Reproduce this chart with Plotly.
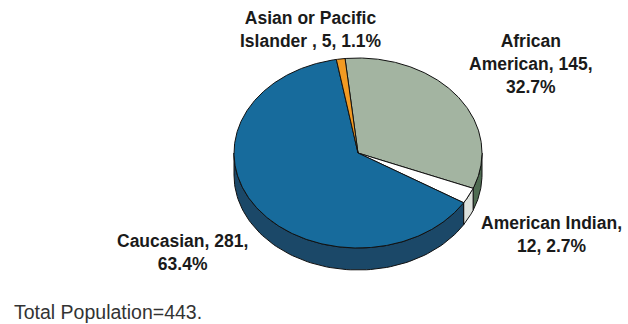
import numpy as np
import plotly.graph_objects as go

# ---- data ----
categories = ["African American", "American Indian", "Caucasian", "Asian or Pacific Islander"]
values = [145, 12, 281, 5]
label_templates = [
    "African<br>American, {v},<br>{p}%",
    "American Indian,<br>{v}, {p}%",
    "Caucasian, {v},<br>{p}%",
    "Asian or Pacific<br>Islander , {v}, {p}%",
]
footnote = "Total Population=443."

# ---- styles / layout ----
top_colors = ["#a3b4a1", "#ffffff", "#176b9c", "#f29a22"]
side_colors = ["#4f6c52", "#dde1dc", "#1b4868", "#b86e10"]
label_pos = [(531, 64), (551, 234), (182, 252), (310, 29)]

W, H = 628, 324
cx, cy, rx, ry, depth = 358, 153, 124, 95, 22
start_deg = -6.0

total = sum(values)
fracs = [v / total for v in values]
bounds = np.concatenate([[0], np.cumsum(fracs)]) * 360.0 + start_deg

def pt(t_deg, dy=0.0):
    t = np.radians(t_deg)
    return cx + rx * np.sin(t), cy - ry * np.cos(t) + dy

fig = go.Figure()

# sides (visible front part: 90..270 deg)
for i in range(len(values)):
    a, b = bounds[i], bounds[i + 1]
    for off in (0, 360, -360):
        lo, hi = max(a + off, 90), min(b + off, 270)
        if hi > lo:
            ts = np.linspace(lo, hi, 80)
            xt, yt = pt(ts)
            xb, yb = pt(ts[::-1], depth)
            xs = np.concatenate([xt, xb, [xt[0]]])
            ys = np.concatenate([yt, yb, [yt[0]]])
            fig.add_trace(go.Scatter(x=xs, y=ys, mode="lines", fill="toself",
                                     fillcolor=side_colors[i],
                                     line=dict(color="#111111", width=1),
                                     hoverinfo="skip", showlegend=False))

# top faces
for i in range(len(values)):
    a, b = bounds[i], bounds[i + 1]
    n = max(8, int((b - a) * 2))
    ts = np.linspace(a, b, n)
    xa, ya = pt(ts)
    xs = np.concatenate([[cx], xa, [cx]])
    ys = np.concatenate([[cy], ya, [cy]])
    fig.add_trace(go.Scatter(x=xs, y=ys, mode="lines", fill="toself",
                             fillcolor=top_colors[i],
                             line=dict(color="#111111", width=1),
                             hoverinfo="skip", showlegend=False,
                             name=categories[i]))

# labels
for i, tmpl in enumerate(label_templates):
    pct = f"{100 * values[i] / total:.1f}"
    fig.add_annotation(x=label_pos[i][0], y=label_pos[i][1], xref="x", yref="y",
                       text="<b>" + tmpl.format(v=values[i], p=pct).replace("<br>", "</b><br><b>") + "</b>",
                       showarrow=False, align="center",
                       font=dict(family="Liberation Sans, Arial, sans-serif", size=17.5, color="#1a1a1a"))

fig.add_annotation(x=12, y=312, xref="x", yref="y", text=footnote, showarrow=False,
                   xanchor="left", yanchor="middle",
                   font=dict(family="Liberation Sans, Arial, sans-serif", size=19.5, color="#333333"))

fig.update_layout(width=W, height=H, margin=dict(l=0, r=0, t=0, b=0),
                  paper_bgcolor="white", plot_bgcolor="white",
                  xaxis=dict(range=[0, W], visible=False, fixedrange=True),
                  yaxis=dict(range=[H, 0], visible=False, fixedrange=True),
                  showlegend=False)

fig.write_html("out.html")
